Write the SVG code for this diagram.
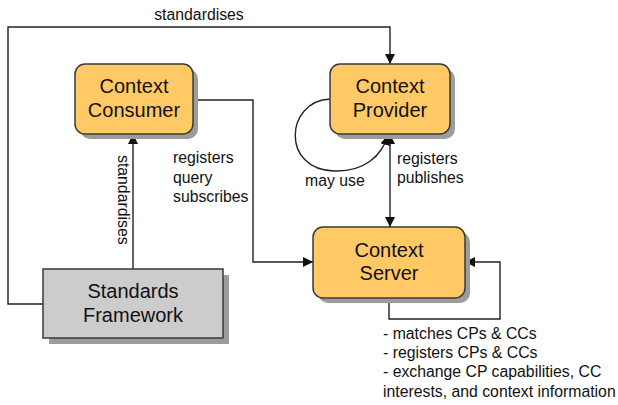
<svg xmlns="http://www.w3.org/2000/svg" width="618" height="405" viewBox="0 0 618 405">
  <defs>
    <style>
      .node { fill: #ffc966; stroke: #3a3a3a; stroke-width: 1.5; }
      .std { fill: #cccccc; stroke: #3a3a3a; stroke-width: 1.5; }
      .shadow { fill: #9c9c9c; }
      .ntext { font-family: "Liberation Sans", Arial, sans-serif; font-size: 20px; fill: #111; text-anchor: middle; }
      .label { font-family: "Liberation Sans", Arial, sans-serif; font-size: 15.8px; fill: #111; }
      .edge { fill: none; stroke: #222; stroke-width: 1.4; }
    </style>
    <marker id="arrow" viewBox="0 0 10 10" refX="10" refY="5" markerWidth="10" markerHeight="10" markerUnits="userSpaceOnUse" orient="auto-start-reverse">
      <path d="M0,0 L10,5 L0,10 Z" fill="#111"/>
    </marker>
  </defs>

  <rect width="618" height="405" fill="#ffffff"/>

  <!-- connectors -->
  <g id="connectors">
    <path class="edge" d="M43,304 H8 V27 H390 V64" marker-end="url(#arrow)"/>
    <path class="edge" d="M133,269 V134" marker-end="url(#arrow)"/>
    <path class="edge" d="M193,100 H253 V262 H313" marker-end="url(#arrow)"/>
    <path class="edge" d="M390,134 V227" marker-start="url(#arrow)" marker-end="url(#arrow)"/>
    <path class="edge" d="M330,99 C285,101 281,170 334,171 C364,172 382,156 388,135" marker-end="url(#arrow)"/>
    <path class="edge" d="M389,298 V319 H500 V262 H465" marker-end="url(#arrow)"/>
  </g>

  <!-- connector labels -->
  <g id="labels" class="label">
    <text x="199" y="20" text-anchor="middle">standardises</text>
    <text transform="translate(118,155) rotate(90)">standardises</text>
    <text x="173" y="163">registers</text>
    <text x="173" y="183">query</text>
    <text x="173" y="202">subscribes</text>
    <text x="305" y="186">may use</text>
    <text x="397" y="164">registers</text>
    <text x="397" y="183">publishes</text>
    <text x="383" y="339">- matches CPs &amp; CCs</text>
    <text x="383" y="358">- registers CPs &amp; CCs</text>
    <text x="383" y="377">- exchange CP capabilities, CC</text>
    <text x="383" y="397">interests, and context information</text>
  </g>

  <g id="context-consumer">
    <rect class="shadow" x="80" y="69" width="118" height="70" rx="10"/>
    <rect class="node" x="75" y="64" width="118" height="70" rx="10"/>
    <text class="ntext" x="134" y="93">Context</text>
    <text class="ntext" x="134" y="117">Consumer</text>
  </g>

  <g id="context-provider">
    <rect class="shadow" x="335" y="69" width="120" height="70" rx="10"/>
    <rect class="node" x="330" y="64" width="120" height="70" rx="10"/>
    <text class="ntext" x="390" y="93">Context</text>
    <text class="ntext" x="390" y="117">Provider</text>
  </g>

  <g id="context-server">
    <rect class="shadow" x="318" y="232" width="152" height="71" rx="10"/>
    <rect class="node" x="313" y="227" width="152" height="71" rx="10"/>
    <text class="ntext" x="389" y="257">Context</text>
    <text class="ntext" x="389" y="280">Server</text>
  </g>

  <g id="standards-framework">
    <rect class="shadow" x="49" y="275" width="180" height="69"/>
    <rect class="std" x="43" y="269" width="180" height="69"/>
    <text class="ntext" x="133" y="298">Standards</text>
    <text class="ntext" x="133" y="322">Framework</text>
  </g>
</svg>
